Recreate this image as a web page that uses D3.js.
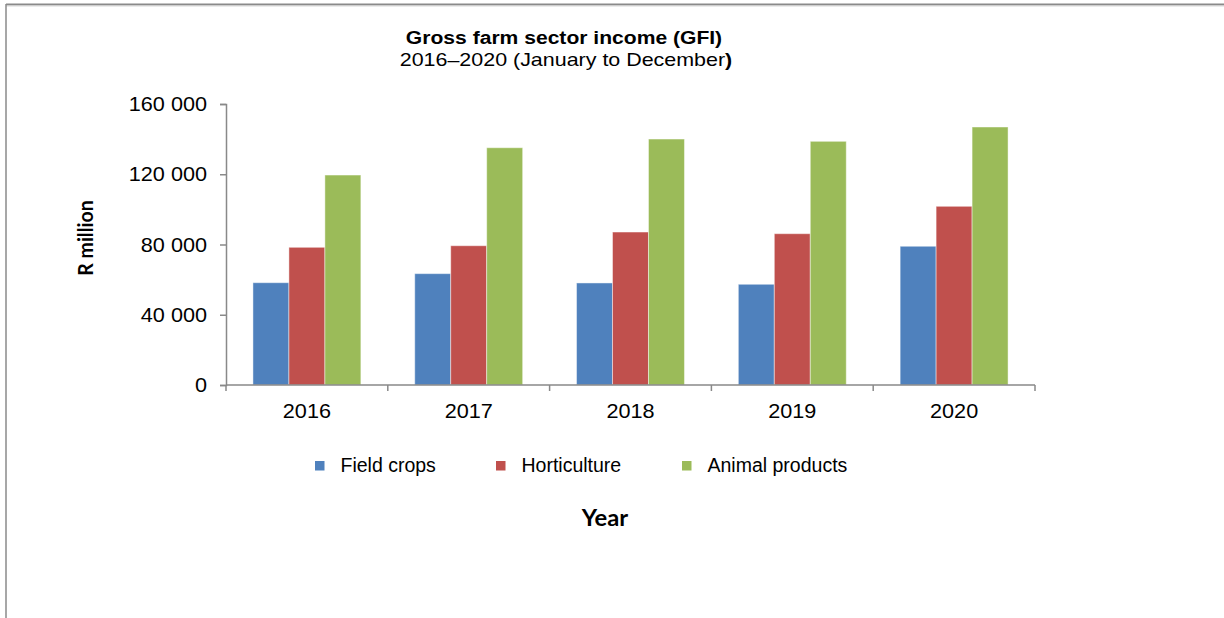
<!DOCTYPE html>
<html>
<head>
<meta charset="utf-8">
<script src="https://cdn.jsdelivr.net/npm/d3@7"></script>
<style>
  html, body { margin: 0; padding: 0; background: #fff; }
  svg { display: block; }
</style>
</head>
<body>
<svg id="chart" width="1224" height="618"></svg>
<script>
// Gross farm sector income by component, R million
const years = ["2016", "2017", "2018", "2019", "2020"];
const fieldCrops = [58250, 63400, 58100, 57350, 79000];
const horticulture = [78400, 79300, 87100, 86150, 101750];
const animalProducts = [119550, 135100, 140050, 138750, 146900];
const seriesNames = ["Field crops", "Horticulture", "Animal products"];
const seriesColors = ["#4F81BD", "#C0504D", "#9BBB59"];
const yTicks = [0, 40000, 80000, 120000, 160000];

const series = [fieldCrops, horticulture, animalProducts];

const svg = d3.select("#chart");
const W = 1224, H = 618;
const plot = { left: 226, right: 1035, top: 104, bottom: 385 };
const SX = 1.11; // horizontal text stretch
const sansFont = "Arial, 'Liberation Sans', sans-serif";
const labelFont = "Lato, 'Open Sans', sans-serif";

// outer frame (top and left edges)
svg.append("line").attr("x1", 6).attr("x2", W).attr("y1", 4.5).attr("y2", 4.5)
  .attr("stroke", "#8a8a8a").attr("stroke-width", 2);
svg.append("line").attr("x1", 6).attr("x2", W).attr("y1", 6).attr("y2", 6)
  .attr("stroke", "#d8d8d8").attr("stroke-width", 1);
svg.append("line").attr("x1", 6).attr("x2", 6).attr("y1", 4).attr("y2", H)
  .attr("stroke", "#8a8a8a").attr("stroke-width", 1.5);

function stretchedText(g, x, y, txt, opts) {
  const sx = opts.sx === undefined ? SX : opts.sx;
  const t = g.append("text")
    .attr("transform", `translate(${x},${y}) scale(${sx},1)`)
    .attr("text-anchor", opts.anchor || "start")
    .attr("font-family", opts.font || sansFont)
    .attr("font-size", opts.size)
    .attr("font-weight", opts.weight || "normal")
    .attr("fill", "#000");
  if (txt !== null) t.text(txt);
  return t;
}

// scales
const x0 = d3.scaleBand().domain(years).range([plot.left, plot.right]).paddingInner(0.333).paddingOuter(0.1665);
const x1 = d3.scaleBand().domain(d3.range(series.length)).range([0, x0.bandwidth()]);
const y = d3.scaleLinear().domain([0, 160000]).range([plot.bottom, plot.top]);

// bars
const groups = svg.append("g").selectAll("g").data(years).join("g")
  .attr("transform", d => `translate(${x0(d)},0)`);
groups.selectAll("rect")
  .data((d, i) => series.map((s, k) => ({ k, v: s[i] })))
  .join("rect")
  .attr("x", d => x1(d.k))
  .attr("y", d => y(d.v))
  .attr("width", x1.bandwidth())
  .attr("height", d => y(0) - y(d.v))
  .attr("fill", d => seriesColors[d.k])
  .attr("stroke", "rgba(255,255,255,0.45)")
  .attr("stroke-width", 1);

// y axis
const fmt = d3.formatLocale({ decimal: ".", thousands: " ", grouping: [3], currency: ["", ""] }).format(",");
const yAxis = svg.append("g").attr("transform", `translate(${plot.left},0)`)
  .call(d3.axisLeft(y).tickValues(yTicks).tickSize(6).tickFormat(""));
yAxis.select(".domain").attr("stroke", "#898989").attr("stroke-width", 1.5);
yAxis.selectAll(".tick line").attr("stroke", "#898989").attr("stroke-width", 1.5);
yTicks.forEach(v => stretchedText(svg, 207, y(v) + 7, fmt(v), { size: 19.5, anchor: "end" }));

// x axis: ticks at category boundaries
const xAxis = svg.append("g").attr("transform", `translate(0,${plot.bottom})`);
xAxis.append("line").attr("x1", plot.left).attr("x2", plot.right)
  .attr("stroke", "#898989").attr("stroke-width", 1.5);
const step = (plot.right - plot.left) / years.length;
xAxis.selectAll("line.tk").data(d3.range(years.length + 1)).join("line")
  .attr("class", "tk")
  .attr("x1", i => plot.left + i * step).attr("x2", i => plot.left + i * step)
  .attr("y1", 0).attr("y2", 6)
  .attr("stroke", "#898989").attr("stroke-width", 1.5);
years.forEach(yr => stretchedText(svg, x0(yr) + x0.bandwidth() / 2, 418, yr, { size: 19.5, anchor: "middle" }));

// title
stretchedText(svg, 564, 44, "Gross farm sector income (GFI)", { size: 18.5, weight: "bold", anchor: "middle", sx: 1.14 });
const sub = stretchedText(svg, 566, 66, null, { size: 18.5, anchor: "middle", sx: 1.16 });
sub.append("tspan").text("2016–2020 (January to December");
sub.append("tspan").attr("font-weight", "bold").text(")");

// axis titles
svg.append("text")
  .attr("transform", "translate(93,238) rotate(-90) scale(1,1.1)")
  .attr("text-anchor", "middle")
  .attr("font-family", labelFont).attr("font-size", 19.5).attr("font-weight", "bold")
  .text("R million");
stretchedText(svg, 605, 526, "Year", { size: 22, weight: "bold", anchor: "middle", font: labelFont, sx: 1.08 });

// legend
const legendX = [315, 496, 682];
seriesNames.forEach((name, k) => {
  svg.append("rect").attr("x", legendX[k]).attr("y", 461).attr("width", 9.5).attr("height", 9.5)
    .attr("fill", seriesColors[k]);
  stretchedText(svg, legendX[k] + 25.5, 472, name, { size: 19.5, anchor: "start", sx: 1 });
});
</script>
</body>
</html>
